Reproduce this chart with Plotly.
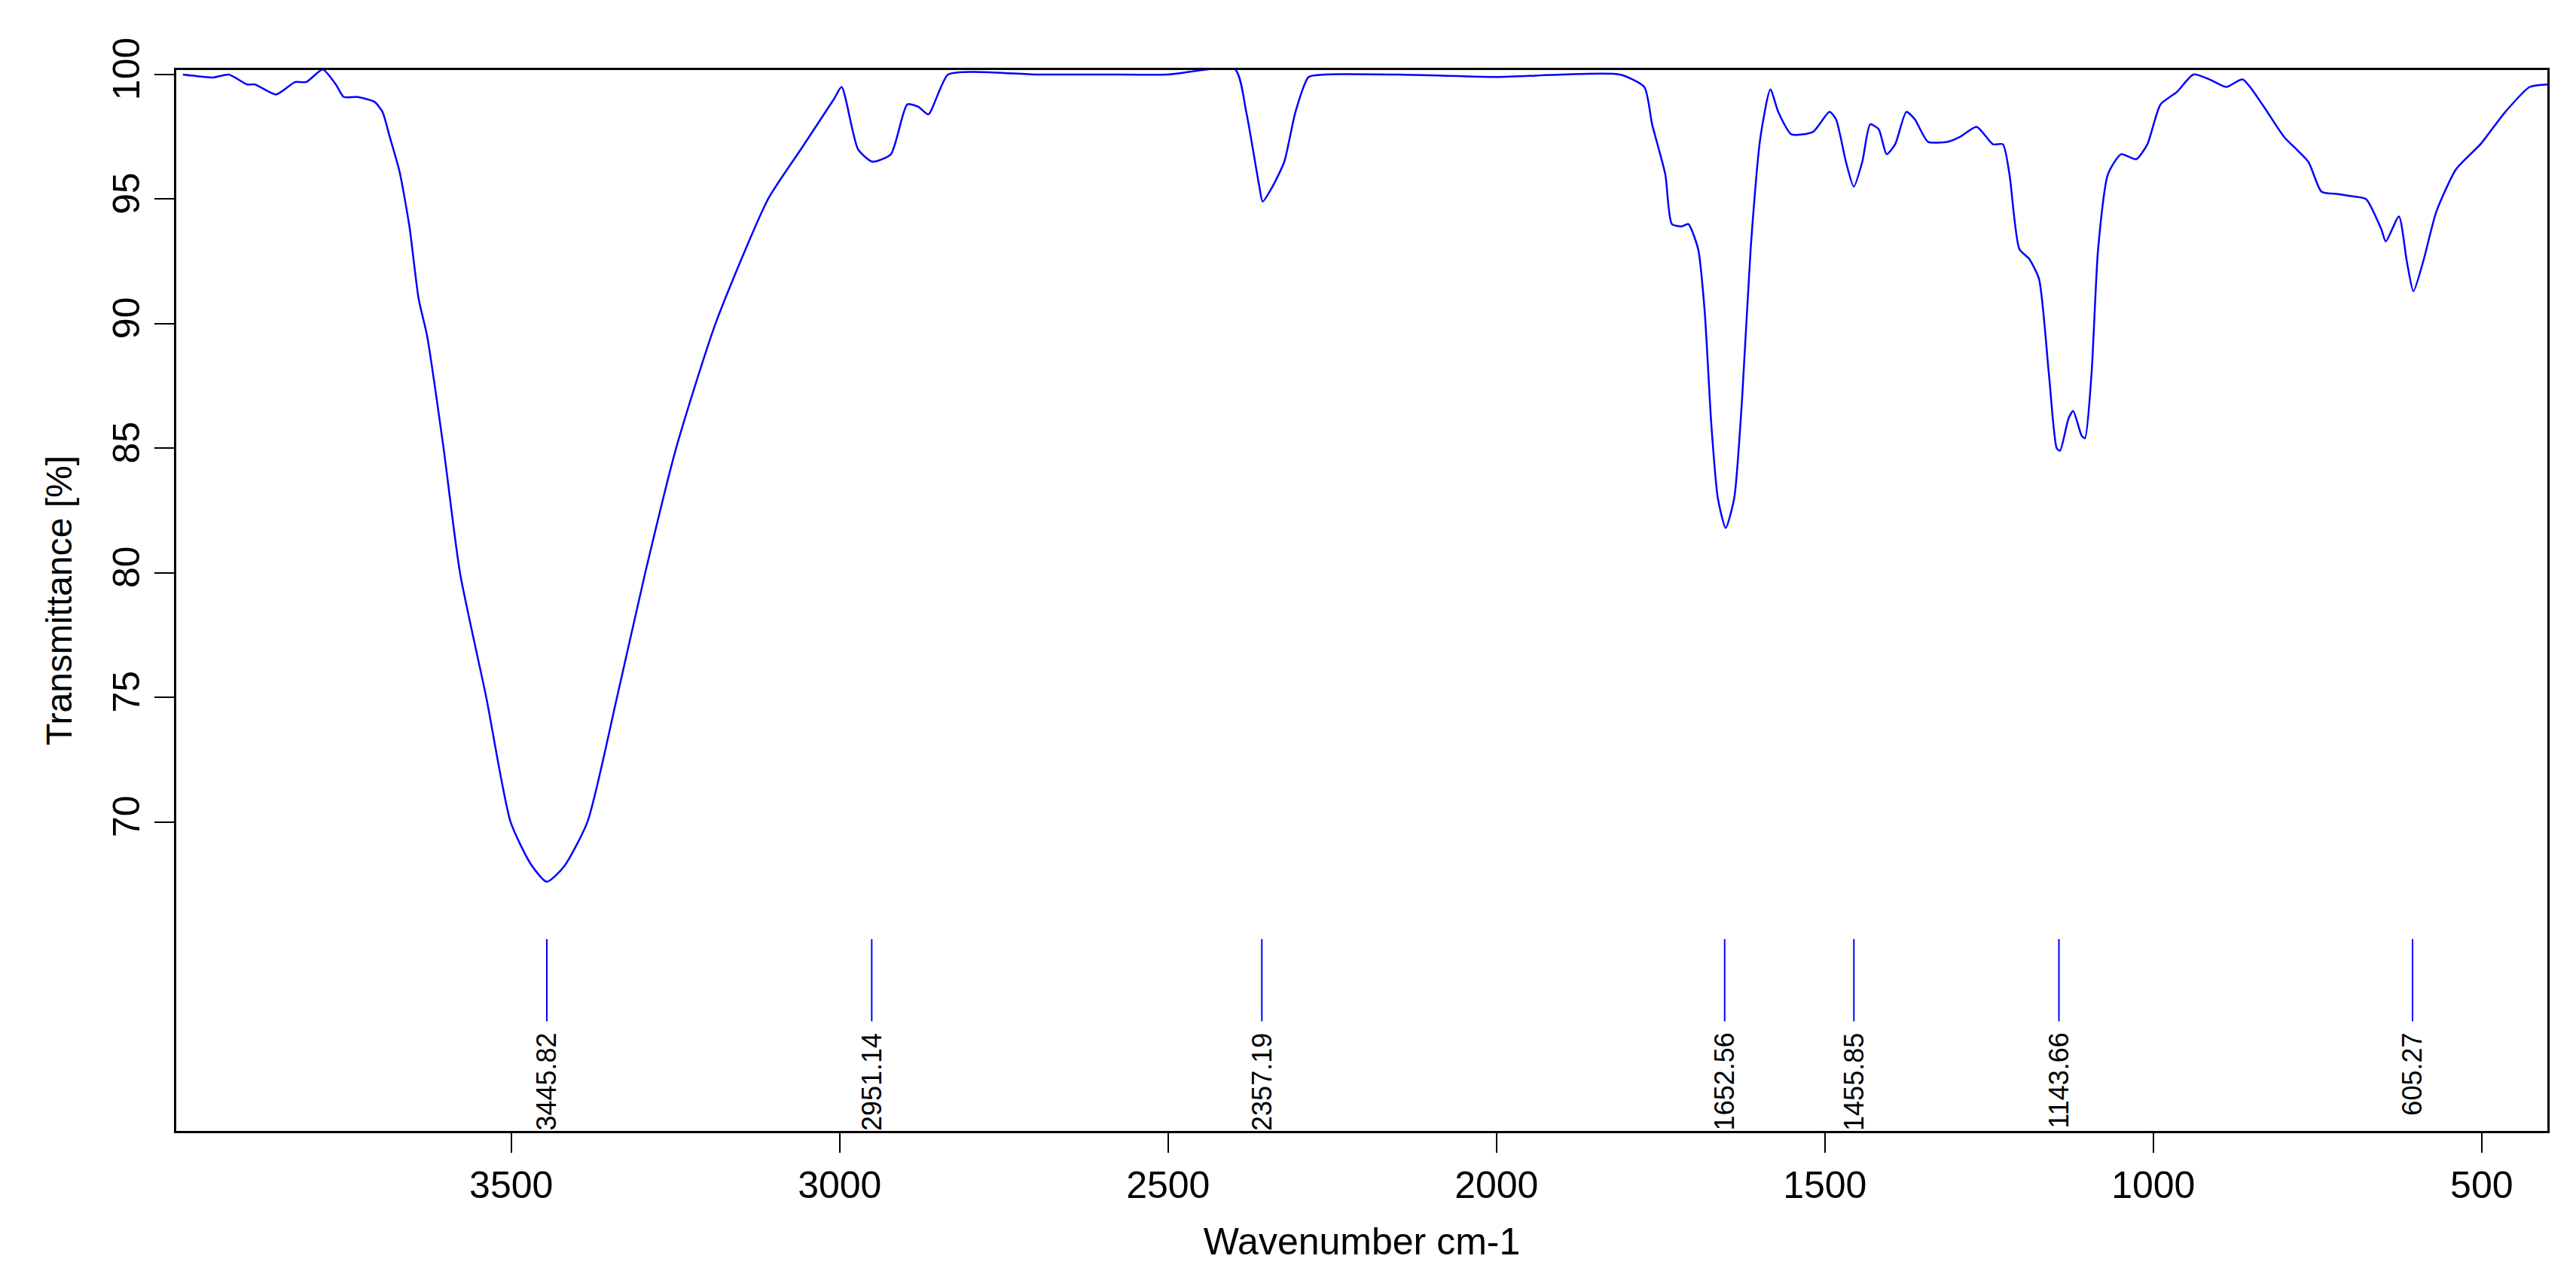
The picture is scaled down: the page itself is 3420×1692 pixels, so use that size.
import plotly.graph_objects as go

wavenumber = [4000,3954,3930,3902,3890,3858,3829,3812,3787,3767,3755,3734,3708,3696,3685,3670,3655,3641,
              3628,3603,3578,3538,3501,3470,3446,3420,3384,3339,3296,3249,3189,3109,3059,3009,2997,2972,2950,2922,2897,2880,2865,
              2835,2785,2700,2600,2500,2398,2381,2361,2356,2341,2323,2306,2286,2261,2150,2000,1900,1812,1775,1763,1743,
              1733,1718,1708,1693,1683,1673,1663,1651,1638,1626,1613,1598,1583,1571,1551,1518,1493,1483,1468,1456,
              1443,1431,1418,1406,1393,1376,1363,1343,1313,1294,1269,1244,1229,1219,1204,1189,1174,1159,1147,1142,
              1129,1122,1109,1104,1094,1084,1069,1049,1026,1009,989,964,939,914,889,864,834,801,764,744,719,694,
              676,653,646,626,614,604,589,569,539,502,464,427,400]
transmittance = [100.0,99.88,100.0,99.6,99.6,99.2,99.7,99.7,100.2,99.6,99.1,99.1,98.9,98.5,97.5,96.1,93.9,91.0,
                 89.5,85.0,80.0,75.0,70.0,68.3,67.6,68.2,70.0,75.0,80.0,85.0,90.0,95.0,97.0,99.0,99.5,97.0,96.5,96.8,98.8,98.7,98.4,
                 100.0,100.1,100.0,100.0,100.0,100.2,98.5,95.5,94.9,95.5,96.5,98.5,99.9,100.0,100.0,99.9,100.0,100.0,99.5,98.0,96.0,
                 94.0,93.9,94.0,93.0,90.5,86.0,83.0,81.8,83.0,87.0,93.0,97.5,99.4,98.5,97.6,97.7,98.5,98.2,96.5,95.5,
                 96.5,98.0,97.8,96.8,97.2,98.5,98.2,97.3,97.3,97.5,97.9,97.2,97.2,96.0,93.0,92.6,91.8,88.0,85.0,84.9,
                 86.2,86.5,85.5,85.4,88.0,93.0,96.0,96.8,96.6,97.2,98.8,99.3,100.0,99.8,99.5,99.8,98.8,97.5,96.5,95.3,95.2,95.1,
                 95.0,93.8,93.3,94.3,92.5,91.3,92.5,94.5,96.2,97.2,98.5,99.5,99.6]

peak_positions = [3445.82, 2951.14, 2357.19, 1652.56, 1455.85, 1143.66, 605.27]
peak_labels = ["3445.82", "2951.14", "2357.19", "1652.56", "1455.85", "1143.66", "605.27"]

x_ticks = [3500, 3000, 2500, 2000, 1500, 1000, 500]
y_ticks = [70, 75, 80, 85, 90, 95, 100]

font = "Liberation Sans Narrow, Liberation Sans, Arial, sans-serif"

fig = go.Figure()
fig.add_trace(go.Scatter(x=wavenumber, y=transmittance, mode="lines",
                         line=dict(color="#0000ff", width=2.5, shape="spline", smoothing=0.6),
                         showlegend=False, hoverinfo="skip"))
for p, lab in zip(peak_positions, peak_labels):
    fig.add_trace(go.Scatter(x=[p, p], y=[65.3, 62.0], mode="lines",
                             line=dict(color="#0000ff", width=2), showlegend=False, hoverinfo="skip"))
    fig.add_annotation(x=p, y=61.6, text=lab, textangle=-90, showarrow=False,
                       xanchor="center", yanchor="top", font=dict(family=font, size=36, color="black"))

fig.update_layout(
    width=3420, height=1692, paper_bgcolor="white", plot_bgcolor="white",
    margin=dict(l=226, r=46, t=85, b=198),
    font=dict(family=font, color="black", size=48),
)
fig.update_xaxes(range=[4010, 400], tickvals=x_ticks, ticktext=[str(v) for v in x_ticks],
                 showline=True, mirror=True, linecolor="black", linewidth=3,
                 ticks="outside", ticklen=26, tickwidth=2, tickcolor="black", showgrid=False, zeroline=False,
                 title=dict(text="Wavenumber cm-1", font=dict(size=50), standoff=30),
                 tickfont=dict(size=50))
fig.update_yaxes(range=[57.6, 100.18], tickvals=y_ticks, ticktext=[str(v) for v in y_ticks],
                 showline=True, mirror=True, linecolor="black", linewidth=3,
                 ticks="outside", ticklen=26, tickwidth=2, tickcolor="black", showgrid=False, zeroline=False,
                 tickangle=-90, tickfont=dict(size=50),
                 title=dict(text="Transmittance [%]", font=dict(size=48), standoff=30))
fig.write_html("out.html")
